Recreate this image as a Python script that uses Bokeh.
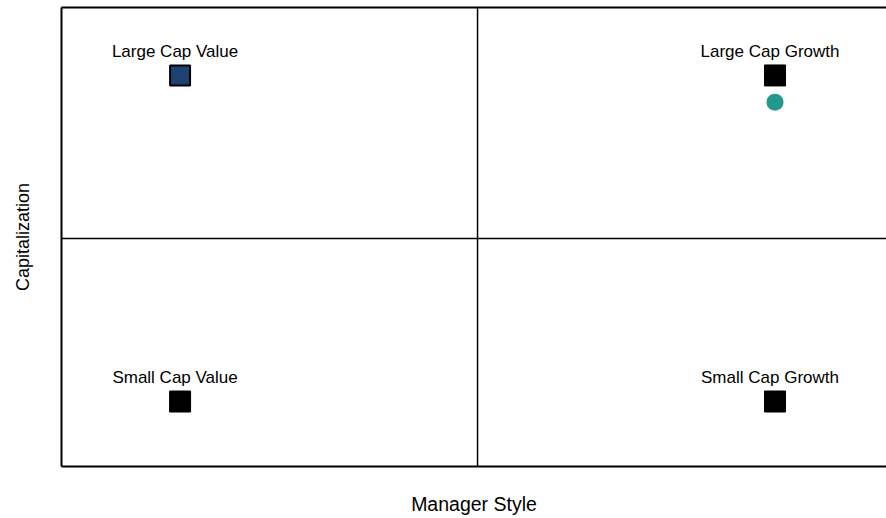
from bokeh.plotting import figure
from bokeh.models import Range1d, Span, LinearAxis, FixedTicker, ColumnDataSource
from bokeh.core.properties import value
from bokeh.embed import file_html
from bokeh.resources import INLINE

# ---- data ----
quadrants = ["Large Cap Value", "Large Cap Growth", "Small Cap Value", "Small Cap Growth"]
style_score = [-0.715, 0.715, -0.715, 0.715]      # value (-) .. growth (+)
cap_score = [0.715, 0.715, -0.715, -0.715]        # small (-) .. large (+)
manager_style = [0.715]
manager_cap = [0.598]
x_title = "Manager Style"
y_title = "Capitalization"

# ---- styling ----
square_fill = ["#1d4271", "black", "black", "black"]
square_line = [2, 1, 1, 1]
square_size = [20, 21, 21, 21]
FONT = "Liberation Sans"

src = ColumnDataSource(dict(x=style_score, y=cap_score, label=quadrants,
                            fill=square_fill, lw=square_line, sz=square_size))

p = figure(width=886, height=518,
           x_range=Range1d(-1, 0.983), y_range=Range1d(-1, 1.013),
           output_backend="svg", toolbar_location=None,
           min_border_left=61, min_border_right=0,
           min_border_top=7, min_border_bottom=52)
p.grid.visible = False
p.outline_line_color = None
p.background_fill_color = "white"
p.border_fill_color = "white"

bottom_axis = p.below[0]
left_axis = p.left[0]
top_axis = LinearAxis()
p.add_layout(top_axis, "above")

bottom_axis.axis_label = x_title
left_axis.axis_label = y_title

for ax in [bottom_axis, left_axis, top_axis]:
    ax.ticker = FixedTicker(ticks=[])
    ax.axis_line_color = "black"
    ax.axis_line_width = 2
    ax.major_tick_line_color = None
    ax.minor_tick_line_color = None
    ax.major_tick_out = 0
    ax.major_tick_in = 0
    ax.minor_tick_out = 0
    ax.minor_tick_in = 0
    ax.major_label_standoff = 0
    ax.major_label_text_font_size = "0px"
    ax.axis_label_text_font = FONT
    ax.axis_label_text_font_style = "normal"
    ax.axis_label_text_font_size = "18px"
    ax.axis_label_text_color = "black"

bottom_axis.axis_label_text_font_size = "19.5px"
bottom_axis.axis_label_standoff = 26
left_axis.axis_label_standoff = 29

p.add_layout(Span(location=0, dimension="height", line_color="black", line_width=1.5))
p.add_layout(Span(location=0, dimension="width", line_color="black", line_width=1.5))

p.scatter(x="x", y="y", source=src, marker="square", size="sz",
          fill_color="fill", line_color="black", line_width="lw")
p.text(x="x", y="y", text="label", source=src, text_align="center",
       text_baseline="alphabetic", x_offset=-5, y_offset=-24,
       text_font=value(FONT), text_font_size="17px", text_color="black")

p.scatter(x=manager_style, y=manager_cap, marker="circle", size=17,
          fill_color="#21998b", line_color=None)

open("out.html", "w").write(file_html(p, INLINE))
